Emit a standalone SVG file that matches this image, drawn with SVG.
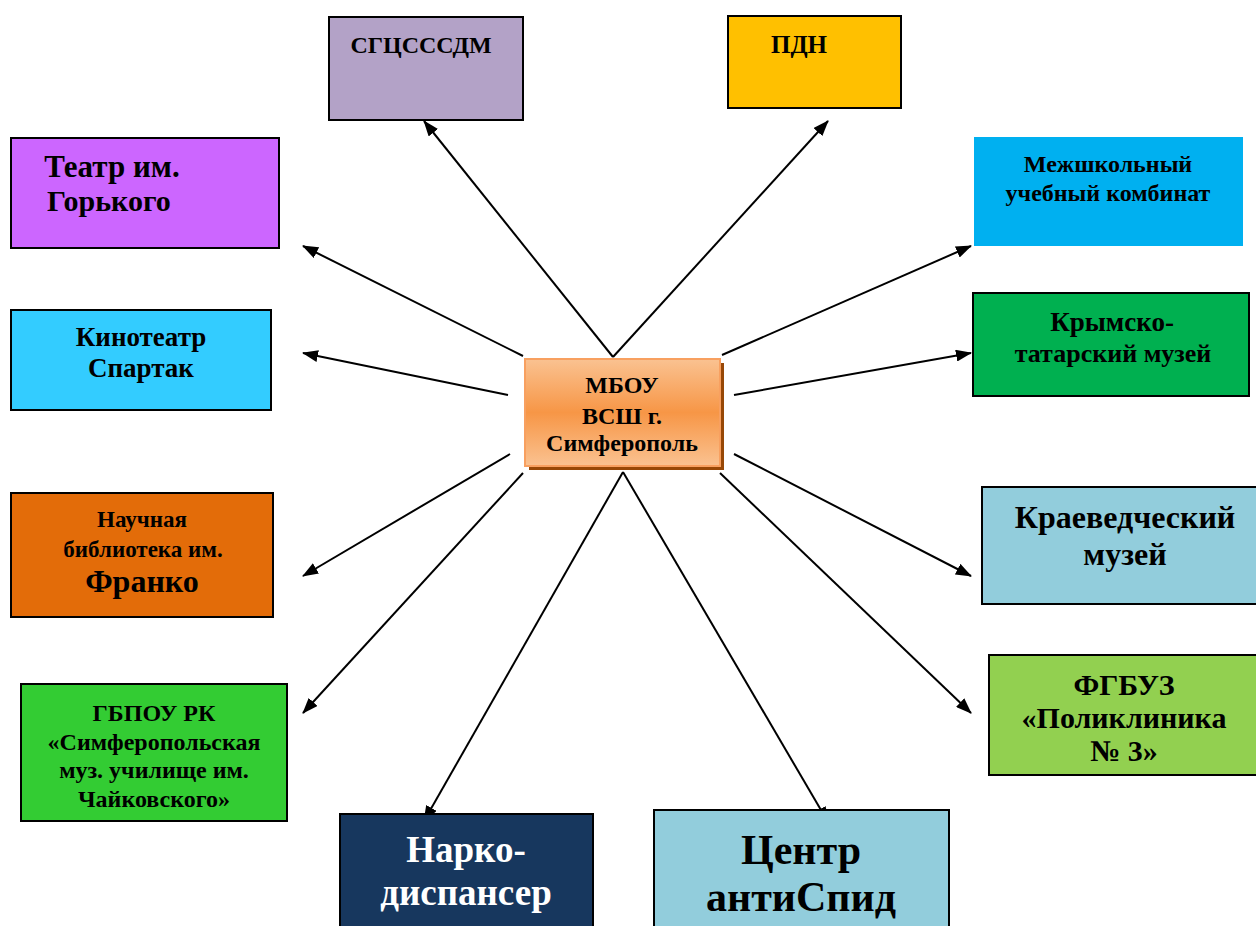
<svg xmlns="http://www.w3.org/2000/svg" width="1256" height="926" viewBox="0 0 1256 926">
<style>
.box{stroke:#000;stroke-width:2}
.t{font-family:"Liberation Serif",serif;font-weight:bold;fill:#000;text-anchor:middle}
.c{stroke:#000;stroke-width:2;fill:none;marker-end:url(#ah)}
</style>
<defs>
<marker id="ah" viewBox="0 0 16 12" refX="15" refY="6" markerWidth="16" markerHeight="12" markerUnits="userSpaceOnUse" orient="auto">
<path d="M0,0 L16,6 L0,12 Z" fill="#000"/>
</marker>
<linearGradient id="og" x1="0" y1="0" x2="0" y2="1">
<stop offset="0" stop-color="#fac291"/>
<stop offset="0.5" stop-color="#f79646"/>
<stop offset="1" stop-color="#fac291"/>
</linearGradient>
</defs>
<rect width="1256" height="926" fill="#fff"/>
<g id="connectors">
<line class="c" x1="613" y1="357" x2="424" y2="121"/>
<line class="c" x1="613" y1="357" x2="828" y2="121"/>
<line class="c" x1="523" y1="356" x2="303" y2="246"/>
<line class="c" x1="508" y1="395" x2="303" y2="353"/>
<line class="c" x1="510" y1="454" x2="303" y2="576"/>
<line class="c" x1="523" y1="473" x2="303" y2="713"/>
<line class="c" x1="623" y1="472" x2="424" y2="821"/>
<line class="c" x1="623" y1="472" x2="828" y2="822"/>
<line class="c" x1="722" y1="355" x2="971" y2="246"/>
<line class="c" x1="734" y1="395" x2="971" y2="353"/>
<line class="c" x1="734" y1="454" x2="971" y2="576"/>
<line class="c" x1="720" y1="473" x2="971" y2="713"/>
</g>
<g id="center">
<rect x="529" y="363" width="195" height="107" fill="#984807"/>
<rect x="525" y="359" width="195" height="107" fill="url(#og)" stroke="#f8a060" stroke-width="2"/>
<text class="t" x="622" y="393" font-size="24">МБОУ</text>
<text class="t" x="622" y="424" font-size="24">ВСШ г.</text>
<text class="t" x="622" y="451" font-size="24">Симферополь</text>
</g>
<g id="sgcsssdm">
<rect class="box" x="329" y="17" width="194" height="103" fill="#b3a2c7"/>
<text class="t" x="421" y="53" font-size="24">СГЦСССДМ</text>
</g>
<g id="pdn">
<rect class="box" x="728" y="16" width="173" height="92" fill="#ffc000"/>
<text class="t" x="799" y="53" font-size="25">ПДН</text>
</g>
<g id="teatr">
<rect class="box" x="11" y="138" width="268" height="110" fill="#cc66ff"/>
<text class="t" x="112" y="177" font-size="31">Театр им.</text>
<text class="t" x="109" y="211" font-size="30">Горького</text>
</g>
<g id="kino">
<rect class="box" x="11" y="310" width="260" height="100" fill="#33ccff"/>
<text class="t" x="141" y="346" font-size="27">Кинотеатр</text>
<text class="t" x="141" y="377" font-size="27">Спартак</text>
</g>
<g id="biblio">
<rect class="box" x="11" y="493" width="262" height="124" fill="#e36c09"/>
<text class="t" x="142" y="527" font-size="23">Научная</text>
<text class="t" x="143" y="557" font-size="23">библиотека им.</text>
<text class="t" x="142" y="592" font-size="32">Франко</text>
</g>
<g id="gbpou">
<rect class="box" x="21" y="684" width="266" height="137" fill="#33cc33"/>
<text class="t" x="154" y="721" font-size="24">ГБПОУ РК</text>
<text class="t" x="154" y="750" font-size="24">«Симферопольская</text>
<text class="t" x="154" y="778" font-size="24">муз. училище им.</text>
<text class="t" x="154" y="807" font-size="24">Чайковского»</text>
</g>
<g id="narko">
<rect class="box" x="340" y="814" width="253" height="120" fill="#17375e"/>
<text class="t" x="466" y="862" font-size="37" style="fill:#fff">Нарко-</text>
<text class="t" x="466" y="905" font-size="37" style="fill:#fff">диспансер</text>
</g>
<g id="centr">
<rect class="box" x="654" y="810" width="295" height="124" fill="#92cddc"/>
<text class="t" x="801" y="864" font-size="42">Центр</text>
<text class="t" x="801" y="911" font-size="42">антиСпид</text>
</g>
<g id="mezhshk">
<rect x="974" y="137" width="269" height="109" fill="#00b0f0"/>
<text class="t" x="1108" y="172" font-size="24">Межшкольный</text>
<text class="t" x="1108" y="201" font-size="24">учебный комбинат</text>
</g>
<g id="krym">
<rect class="box" x="973" y="293" width="276" height="103" fill="#00b050"/>
<text class="t" x="1112" y="331" font-size="27">Крымско-</text>
<text class="t" x="1113" y="362" font-size="26">татарский музей</text>
</g>
<g id="kraeved">
<rect class="box" x="982" y="487" width="280" height="117" fill="#92cddc"/>
<text class="t" x="1125" y="528" font-size="32">Краеведческий</text>
<text class="t" x="1125" y="565" font-size="32">музей</text>
</g>
<g id="fgbuz">
<rect class="box" x="989" y="655" width="273" height="120" fill="#92d050"/>
<text class="t" x="1124" y="695" font-size="30">ФГБУЗ</text>
<text class="t" x="1124" y="728" font-size="30">«Поликлиника</text>
<text class="t" x="1124" y="761" font-size="30">№ 3»</text>
</g>
</svg>
